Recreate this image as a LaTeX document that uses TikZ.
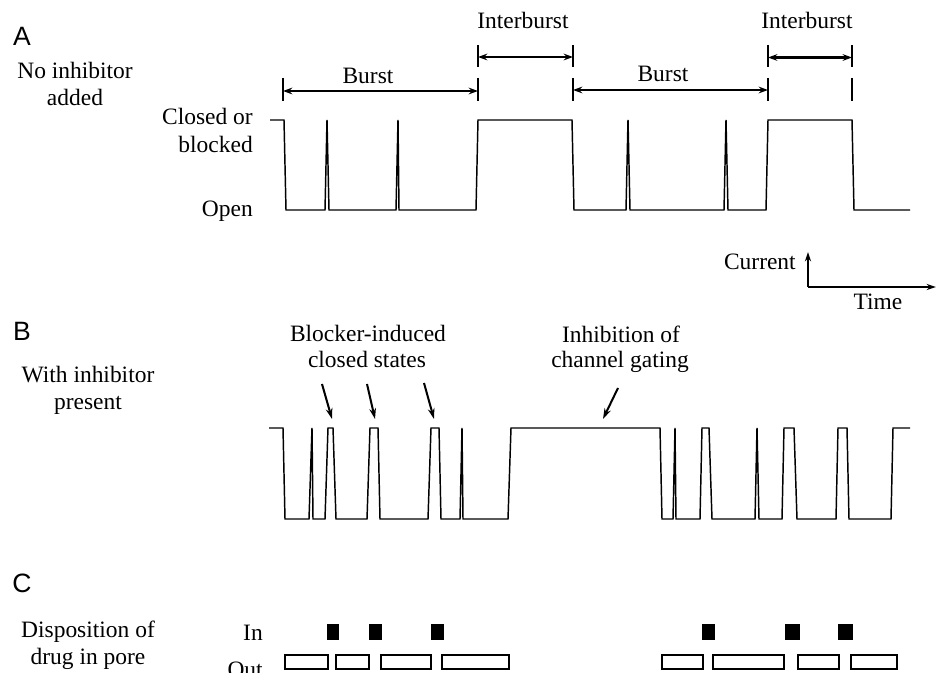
\documentclass[tikz,border=0pt]{standalone}
\usepackage{fontspec}
\setmainfont{Liberation Serif}
\newfontfamily\labfont{Liberation Sans}
\usetikzlibrary{arrows.meta}
\begin{document}
\begin{tikzpicture}[x=0.75pt,y=-0.75pt,
  txt/.style={font=\fontsize{17.6}{21}\selectfont, inner sep=0pt},
  panel/.style={font=\labfont\fontsize{19.9}{24}\selectfont, inner sep=0pt},
  trace/.style={line width=1.1pt},
  dim/.style={line width=1.6pt, {Stealth[length=7pt,width=5pt]}-{Stealth[length=7pt,width=5pt]}},
  tickmark/.style={line width=1.6pt},
  pointer/.style={line width=1.5pt, -{Stealth[length=8pt,width=5pt]}},
  axis/.style={line width=1.5pt, -{Stealth[length=7pt,width=4.5pt]}},
  inbox/.style={fill=black, draw=black, line width=0.8pt},
  outbox/.style={draw=black, line width=1.1pt}
]
\useasboundingbox (0,0) rectangle (936,673);

% ---------------- Panel A ----------------
\node[panel] (pA) at (22,36) {A};
\node[txt, anchor=base] (noinh1) at (75,79) {No inhibitor};
\node[txt, anchor=base] (noinh2) at (75,106) {added};
\node[txt, anchor=base east] (closed1) at (253,125) {Closed or};
\node[txt, anchor=base east] (closed2) at (253,153) {blocked};
\node[txt, anchor=base east] (open) at (253,217) {Open};

\draw[trace] (270,120) -- (284,120) -- (286,210) -- (325,210) -- (327,120) -- (329,210)
  -- (396,210) -- (398,120) -- (399,210) -- (476,210) -- (478,120) -- (572,120)
  -- (574,210) -- (626,210) -- (628,120) -- (630,210) -- (724,210) -- (726,120)
  -- (728,210) -- (766,210) -- (768,120) -- (852,120) -- (854,210) -- (910,210);

% dimension marks
\foreach \x in {478,573,768,852} {
  \draw[tickmark] (\x,45) -- (\x,67);
}
\foreach \x in {283,478,573,768,852} {
  \draw[tickmark] (\x,78) -- (\x,101);
}
\coordinate (b1s) at (283,91);
\coordinate (b1e) at (478,91);
\coordinate (i1s) at (478,57);
\coordinate (i1e) at (573,57);
\coordinate (b2s) at (573,90);
\coordinate (b2e) at (768,90);
\coordinate (i2s) at (768,57.5);
\coordinate (i2e) at (852,57.5);
\draw[dim] (b1s) -- (b1e);
\draw[dim] (i1s) -- (i1e);
\draw[dim] (b2s) -- (b2e);
\draw[dim] (i2s) -- (i2e);
\node[txt, anchor=base] (burst1) at (368,84) {Burst};
\node[txt, anchor=base] (burst2) at (663,82) {Burst};
\node[txt, anchor=base] (inter1) at (523,29) {Interburst};
\node[txt, anchor=base] (inter2) at (807,29) {Interburst};

% scale axes
\coordinate (org) at (808,287);
\coordinate (cur) at (808,252);
\coordinate (tim) at (936,287);
\draw[axis] (org) -- (cur);
\draw[axis] (org) -- (tim);
\node[txt, anchor=base east] (curlab) at (796,270) {Current};
\node[txt, anchor=base] (timlab) at (878,310) {Time};

% ---------------- Panel B ----------------
\node[panel] (pB) at (22,331) {B};
\node[txt, anchor=base] (with1) at (88,383) {With inhibitor};
\node[txt, anchor=base] (with2) at (88,410) {present};

\draw[trace] (269,428) -- (283,428) -- (285,519) -- (309,519) -- (312,428) -- (313,519)
  -- (325,519) -- (328,428) -- (333,428) -- (336,519) -- (367,519) -- (370,428)
  -- (378,428) -- (380,519) -- (428,519) -- (431,428) -- (439,428) -- (441,519)
  -- (460,519) -- (462,428) -- (463,519) -- (508,519) -- (511,428) -- (660,428)
  -- (662,519) -- (673,519) -- (675,428) -- (676,519) -- (700,519) -- (702,428)
  -- (709,428) -- (712,519) -- (755,519) -- (757,428) -- (759,519) -- (782,519)
  -- (784,428) -- (794,428) -- (797,519) -- (836,519) -- (838,428) -- (847,428)
  -- (849,519) -- (891,519) -- (893,428) -- (910,428);

\node[txt, anchor=base] (blk1) at (368,342) {Blocker-induced};
\node[txt, anchor=base] (blk2) at (367,368) {closed states};
\node[txt, anchor=base] (inh1) at (621,343) {Inhibition of};
\node[txt, anchor=base] (inh2) at (620,368) {channel gating};

\coordinate (a1s) at (322,384); \coordinate (a1e) at (332,419);
\coordinate (a2s) at (367,384); \coordinate (a2e) at (375,419);
\coordinate (a3s) at (424,383); \coordinate (a3e) at (434,419);
\coordinate (a4s) at (618,388); \coordinate (a4e) at (603,419);
\draw[pointer] (a1s) -- (a1e);
\draw[pointer] (a2s) -- (a2e);
\draw[pointer] (a3s) -- (a3e);
\draw[pointer] (a4s) -- (a4e);

% ---------------- Panel C ----------------
\node[panel] (pC) at (22,583) {C};
\node[txt, anchor=base] (disp1) at (88,638) {Disposition of};
\node[txt, anchor=base] (disp2) at (88,664) {drug in pore};
\node[txt, anchor=base east] (inlab) at (263,640) {In};
\node[txt, anchor=base east] (outlab) at (263,677) {Out};

\foreach \a/\b in {328/338, 370/381, 432/443, 703/714, 786/799, 839/852} {
  \draw[inbox] (\a,625) rectangle (\b,639);
}
\foreach \a/\b in {285/328, 336/369, 381/431, 442/509, 662/703, 713/784, 798/839, 851/897} {
  \draw[outbox] (\a,655) rectangle (\b,669);
}
\end{tikzpicture}
\end{document}
